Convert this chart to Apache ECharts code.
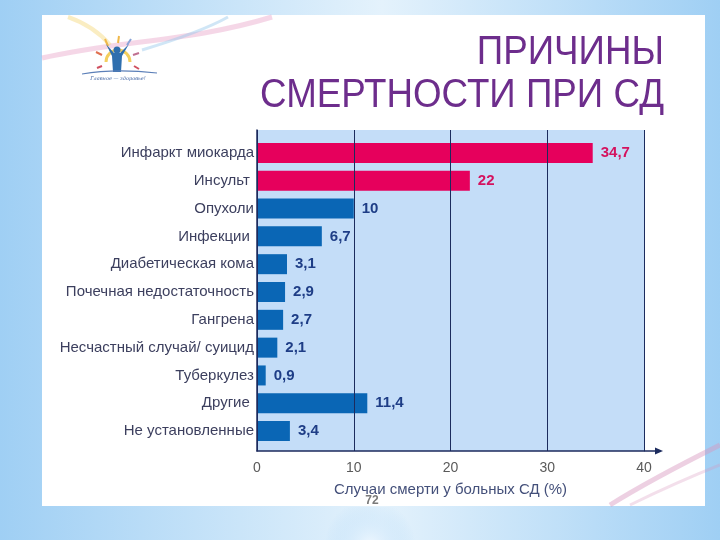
<!DOCTYPE html>
<html>
<head>
<meta charset="utf-8">
<script src="https://cdn.jsdelivr.net/npm/echarts@6/dist/echarts.min.js"></script>
<style>html,body{margin:0;padding:0;}#c{width:720px;height:540px;}</style>
</head>
<body>
<div id="c"></div>
<script>
const categories = [
  'Инфаркт миокарда', 'Инсульт ', 'Опухоли', 'Инфекции ', 'Диабетическая кома',
  'Почечная недостаточность', 'Гангрена', 'Несчастный случай/ суицид', 'Туберкулез',
  'Другие ', 'Не установленные'
];
const values = [34.7, 22, 10, 6.7, 3.1, 2.9, 2.7, 2.1, 0.9, 11.4, 3.4];
const highlightedCount = 2;
const xMin = 0, xMax = 40, xStep = 10;
const titleLines = ['ПРИЧИНЫ', 'СМЕРТНОСТИ ПРИ СД'];
const axisTitle = 'Случаи смерти у больных СД (%)';
const pageNumber = '72';

const FONT = 'Liberation Sans, Arial, sans-serif';
const RED = '#e6005c', BLUE = '#0a66b5';
const RED_TXT = '#d4125e', BLUE_TXT = '#1e3d86';
const GRIDC = '#1c2b5e';

const chart = echarts.init(document.getElementById('c'));

const barData = values.map((v, i) => ({
  value: v,
  itemStyle: { color: i < highlightedCount ? RED : BLUE },
  label: { color: i < highlightedCount ? RED_TXT : BLUE_TXT }
}));

const decor = [
  { type: 'rect', z: -10, shape: { x: 42, y: 15, width: 663, height: 491 }, style: { fill: '#ffffff' } },
  // bottom glow
  { type: 'ellipse', z: -9, shape: { cx: 370, cy: 545, rx: 330, ry: 38 },
    style: { fill: new echarts.graphic.RadialGradient(0.5, 0.5, 0.6, [
      { offset: 0, color: 'rgba(240,248,255,0.95)' }, { offset: 1, color: 'rgba(170,213,247,0)' }]) } },
  // logo swooshes
  { type: 'bezierCurve', z: -8, shape: { x1: 42, y1: 58, x2: 272, y2: 17, cpx1: 120, cpy1: 40, cpx2: 190, cpy2: 42 },
    style: { stroke: 'rgba(225,140,185,0.35)', lineWidth: 5, fill: null } },
  { type: 'bezierCurve', z: -8, shape: { x1: 142, y1: 50, x2: 228, y2: 17, cpx1: 175, cpy1: 40, cpx2: 205, cpy2: 30 },
    style: { stroke: 'rgba(150,200,235,0.45)', lineWidth: 3, fill: null } },
  { type: 'bezierCurve', z: -8, shape: { x1: 68, y1: 17, x2: 110, y2: 45, cpx1: 88, cpy1: 24, cpx2: 100, cpy2: 33 },
    style: { stroke: 'rgba(245,215,120,0.45)', lineWidth: 4, fill: null } },
  { type: 'arc', z: -7, shape: { cx: 118, cy: 62, r: 12, startAngle: Math.PI, endAngle: 2 * Math.PI },
    style: { stroke: '#f3cf5e', lineWidth: 3, fill: null } },
  { type: 'line', z: -7, shape: { x1: 108, y1: 46, x2: 105, y2: 39 }, style: { stroke: '#f0b84a', lineWidth: 2 } },
  { type: 'line', z: -7, shape: { x1: 118, y1: 43, x2: 119, y2: 36 }, style: { stroke: '#f0b84a', lineWidth: 2 } },
  { type: 'line', z: -7, shape: { x1: 127, y1: 45, x2: 131, y2: 39 }, style: { stroke: '#8aa4d8', lineWidth: 2 } },
  { type: 'line', z: -7, shape: { x1: 102, y1: 55, x2: 96, y2: 52 }, style: { stroke: '#e07050', lineWidth: 2 } },
  { type: 'line', z: -7, shape: { x1: 133, y1: 55, x2: 139, y2: 53 }, style: { stroke: '#c07090', lineWidth: 2 } },
  { type: 'line', z: -7, shape: { x1: 102, y1: 66, x2: 97, y2: 68 }, style: { stroke: '#d05060', lineWidth: 2 } },
  { type: 'line', z: -7, shape: { x1: 134, y1: 66, x2: 139, y2: 69 }, style: { stroke: '#d05060', lineWidth: 2 } },
  { type: 'circle', z: -6, shape: { cx: 117, cy: 50, r: 3.5 }, style: { fill: '#2f6fae' } },
  { type: 'polygon', z: -6, shape: { points: [[106, 44], [112, 56], [113, 72], [121, 72], [122, 56], [129, 44], [120, 53], [114, 53]] },
    style: { fill: '#2f6fae' } },
  { type: 'bezierCurve', z: -6, shape: { x1: 82, y1: 74, x2: 157, y2: 73, cpx1: 105, cpy1: 70, cpx2: 130, cpy2: 70 },
    style: { stroke: '#5b7fb8', lineWidth: 1.2, fill: null } },
  { type: 'text', z: -6, x: 118, y: 79, style: { text: 'Главное — здоровье!', fontSize: 5, fontStyle: 'italic',
      fontFamily: 'DejaVu Serif, serif', fill: '#3a5fa0', textAlign: 'center', textVerticalAlign: 'middle' } },
  // bottom-right swooshes
  { type: 'bezierCurve', z: -8, shape: { x1: 610, y1: 505, x2: 720, y2: 445, cpx1: 650, cpy1: 480, cpx2: 690, cpy2: 460 },
    style: { stroke: 'rgba(215,150,190,0.45)', lineWidth: 5, fill: null } },
  { type: 'bezierCurve', z: -8, shape: { x1: 630, y1: 505, x2: 720, y2: 465, cpx1: 665, cpy1: 488, cpx2: 695, cpy2: 475 },
    style: { stroke: 'rgba(215,150,190,0.3)', lineWidth: 3, fill: null } },
  // titles
  { type: 'text', x: 664, y: 73, scaleX: 0.918, style: { text: titleLines[0], fontSize: 40, fontFamily: FONT,
      fill: '#6d2d8c', textAlign: 'right', textVerticalAlign: 'bottom' } },
  { type: 'text', x: 664, y: 116, scaleX: 0.918, style: { text: titleLines[1], fontSize: 40, fontFamily: FONT,
      fill: '#6d2d8c', textAlign: 'right', textVerticalAlign: 'bottom' } },
  // axis arrow extension
  { type: 'line', z: 10, shape: { x1: 644, y1: 451, x2: 656, y2: 451 }, style: { stroke: GRIDC, lineWidth: 1.5 } },
  { type: 'polygon', z: 10, shape: { points: [[663, 451], [655, 447.5], [655, 454.5]] }, style: { fill: GRIDC } },
  // page number
  { type: 'text', z: 10, x: 372, y: 501, style: { text: pageNumber, fontSize: 12, fontWeight: 'bold', fontFamily: FONT,
      fill: '#7a7a7a', textAlign: 'center', textVerticalAlign: 'middle' } }
];

const option = {
  animation: false,
  backgroundColor: new echarts.graphic.LinearGradient(0, 0, 1, 0, [
    { offset: 0, color: '#9fcff4' }, { offset: 0.53, color: '#e4f2fc' }, { offset: 1, color: '#9fcff4' }]),
  graphic: decor,
  grid: [
    { left: 257, right: 76, top: 130, bottom: 89, show: true, backgroundColor: '#c4ddf8', borderWidth: 0 },
    { left: 257, right: 76, top: 139, bottom: 95 }
  ],
  xAxis: [
    { gridIndex: 0, type: 'value', min: xMin, max: xMax, interval: xStep, z: 5,
      axisLine: { show: true, lineStyle: { color: GRIDC, width: 1.5 } },
      axisTick: { show: false },
      axisLabel: { color: '#5a5a5a', fontSize: 14, margin: 10, fontFamily: FONT },
      splitLine: { show: true, lineStyle: { color: GRIDC, width: 1 } },
      name: axisTitle, nameLocation: 'middle', nameGap: 31,
      nameTextStyle: { color: '#44507a', fontSize: 15, fontFamily: FONT } },
    { gridIndex: 1, type: 'value', min: xMin, max: xMax, show: false }
  ],
  yAxis: [
    { gridIndex: 0, type: 'value', z: 5,
      axisLine: { show: true, lineStyle: { color: GRIDC, width: 1.5 } },
      axisTick: { show: false }, axisLabel: { show: false }, splitLine: { show: false } },
    { gridIndex: 1, type: 'category', data: categories, inverse: true,
      axisLine: { show: false }, axisTick: { show: false },
      axisLabel: { color: '#3c3f5e', fontSize: 15, margin: 3, fontFamily: FONT } }
  ],
  series: [{
    type: 'bar', xAxisIndex: 1, yAxisIndex: 1, barWidth: 20, z: 2,
    data: barData,
    label: { show: true, position: 'right', distance: 8, fontWeight: 'bold', fontSize: 15, fontFamily: FONT,
      formatter: p => String(p.value).replace('.', ',') }
  }]
};
chart.setOption(option);
</script>
</body>
</html>
